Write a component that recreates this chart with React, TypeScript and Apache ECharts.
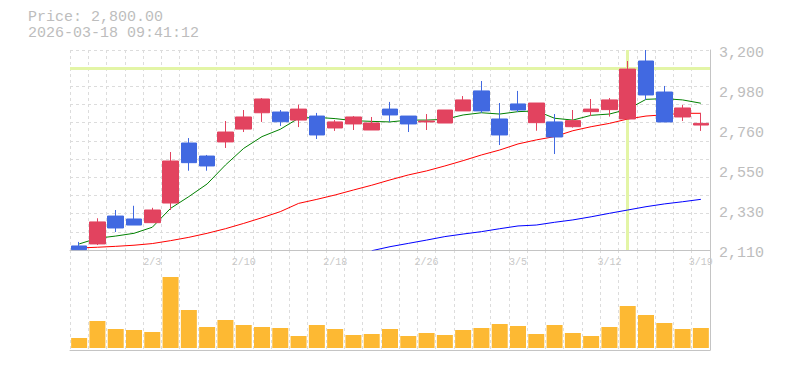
import React, { useEffect, useRef } from "react";
import * as echarts from "echarts";

const dates = [
  "1/28", "1/29", "1/30", "2/2", "2/3", "2/4", "2/5", "2/6", "2/9", "2/10",
  "2/12", "2/13", "2/16", "2/17", "2/18", "2/19", "2/20", "2/24", "2/25", "2/26",
  "2/27", "3/2", "3/3", "3/4", "3/5", "3/6", "3/9", "3/10", "3/11", "3/12",
  "3/13", "3/16", "3/17", "3/18", "3/19",
];

const opens = [2132, 2143, 2295, 2279, 2259, 2366, 2693, 2622, 2699, 2769, 2858, 2862, 2818, 2840, 2775, 2797, 2764, 2878, 2840, 2808, 2802, 2868, 2977, 2824, 2906, 2804, 2808, 2782, 2864, 2875, 2824, 3140, 2971, 2835, 2791];
const closes = [2112, 2263, 2230, 2246, 2328, 2595, 2586, 2568, 2753, 2835, 2933, 2809, 2878, 2737, 2808, 2835, 2802, 2846, 2797, 2813, 2873, 2928, 2868, 2737, 2873, 2911, 2726, 2815, 2878, 2928, 3096, 2955, 2808, 2884, 2800];
const lows = [2110, 2137, 2208, 2246, 2259, 2328, 2542, 2542, 2666, 2753, 2808, 2786, 2780, 2715, 2759, 2764, 2764, 2808, 2753, 2764, 2802, 2868, 2857, 2682, 2862, 2760, 2633, 2777, 2840, 2837, 2824, 2928, 2808, 2813, 2759];
const highs = [2154, 2283, 2328, 2351, 2340, 2644, 2720, 2628, 2813, 2873, 2938, 2873, 2902, 2857, 2818, 2840, 2835, 2917, 2840, 2851, 2873, 2949, 3031, 2911, 2977, 2911, 2851, 2873, 2933, 2938, 3140, 3200, 3004, 2900, 2857];

const volumes = [50000, 135000, 95000, 90000, 80000, 355000, 190000, 105000, 140000, 115000, 105000, 100000, 60000, 115000, 95000, 65000, 70000, 95000, 60000, 75000, 65000, 90000, 100000, 120000, 110000, 70000, 115000, 75000, 60000, 105000, 210000, 165000, 125000, 95000, 100000];

const ma5 = [2143, 2174, 2186, 2201, 2234, 2337, 2401, 2470, 2573, 2664, 2728, 2768, 2828, 2833, 2826, 2815, 2811, 2808, 2818, 2818, 2822, 2846, 2858, 2851, 2864, 2868, 2828, 2818, 2844, 2851, 2877, 2931, 2935, 2928, 2910];
const ma25 = [2121, 2125, 2130, 2136, 2145, 2161, 2179, 2201, 2226, 2255, 2286, 2319, 2364, 2386, 2410, 2437, 2463, 2492, 2519, 2541, 2568, 2597, 2628, 2655, 2688, 2710, 2728, 2760, 2782, 2800, 2824, 2840, 2847, 2855, 2855];
const ma75 = [null, null, null, null, null, null, null, null, null, null, null, null, null, null, null, null, 2106, 2128, 2146, 2164, 2183, 2197, 2210, 2226, 2241, 2246, 2261, 2274, 2291, 2310, 2328, 2346, 2361, 2373, 2386];

const priceMin = 2110;
const priceMax = 3200;
const priceStep = 218;

const headerPrice = "Price: 2,800.00";
const headerTime = "2026-03-18 09:41:12";
const crossDate = "3/13";
const crossPrice = 3100;

const mono = "'Liberation Mono', 'Courier New', monospace";
const gridColor = "#dcdcdc";
const axisColor = "#c4c4c4";
const textColor = "#bdbdbd";
const upColor = "#e2435f";
const downColor = "#4169e1";
const crossColor = "#e3f5a6";
const volColor = "#fdb933";

export default function App() {
  const ref = useRef<HTMLDivElement>(null);

  useEffect(() => {
    document.body.style.margin = "0";
    if (!ref.current) return;
    const chart = echarts.init(ref.current, null, { renderer: "svg" });
    const candleData = dates.map((_, i) => [opens[i], closes[i], lows[i], highs[i]]);
    const splitStyle = { color: gridColor, type: [3, 3] as number[], width: 1 };

    chart.setOption({
      animation: false,
      textStyle: { fontFamily: mono },
      graphic: [
        {
          type: "text",
          x: 28,
          y: 17.5,
          style: {
            text: headerPrice,
            fill: textColor,
            font: `15px ${mono}`,
            verticalAlign: "middle",
          },
        },
        {
          type: "text",
          x: 28,
          y: 33.5,
          style: {
            text: headerTime,
            fill: textColor,
            font: `15px ${mono}`,
            verticalAlign: "middle",
          },
        },
      ],
      grid: [
        { left: 70, right: 75, top: 50, height: 200 },
        { left: 70, right: 75, top: 250, height: 100 },
      ],
      xAxis: [
        {
          type: "category",
          gridIndex: 0,
          data: dates,
          boundaryGap: true,
          axisLine: { show: true, onZero: false, lineStyle: { color: axisColor } },
          axisTick: { show: false },
          axisLabel: {
            interval: (index: number) => index >= 4 && (index - 4) % 5 === 0,
            color: "#c8c8c8",
            fontSize: 10,
            fontFamily: mono,
            margin: 7,
          },
          splitLine: { show: true, interval: 0, lineStyle: splitStyle },
        },
        {
          type: "category",
          gridIndex: 1,
          data: dates,
          boundaryGap: true,
          axisLine: { show: true, onZero: false, lineStyle: { color: axisColor } },
          axisTick: { show: false },
          axisLabel: { show: false },
          splitLine: { show: true, interval: 0, lineStyle: splitStyle },
        },
      ],
      yAxis: [
        {
          type: "value",
          gridIndex: 0,
          position: "right",
          min: priceMin,
          max: priceMax,
          interval: priceStep,
          axisLine: { show: true, lineStyle: { color: axisColor } },
          axisTick: { show: false },
          splitLine: { show: false },
          axisLabel: {
            color: textColor,
            fontSize: 15,
            fontFamily: mono,
            margin: 9,
            verticalAlign: "top",
            lineHeight: 7,
            formatter: (v: number) => (Math.round(v / 10) * 10).toLocaleString("en-US"),
          },
        },
        {
          type: "value",
          gridIndex: 0,
          position: "left",
          min: 0,
          max: 11,
          interval: 1,
          axisLine: { show: false },
          axisTick: { show: false },
          axisLabel: { show: false },
          splitLine: { show: true, lineStyle: splitStyle },
        },
        {
          type: "value",
          gridIndex: 1,
          position: "right",
          min: -10000,
          max: 490000,
          axisLine: { show: true, lineStyle: { color: axisColor } },
          axisTick: { show: false },
          axisLabel: { show: false },
          splitLine: { show: false },
        },
      ],
      series: [
        {
          type: "line",
          xAxisIndex: 0,
          yAxisIndex: 0,
          data: dates.map(() => null),
          silent: true,
          z: 1,
          markLine: {
            silent: true,
            z: 1,
            symbol: ["none", "none"],
            label: { show: false },
            lineStyle: { color: crossColor, width: 3, type: "solid" },
            emphasis: { disabled: true },
            data: [{ yAxis: crossPrice }, { xAxis: crossDate }],
          },
        },
        {
          name: "MA75",
          type: "line",
          xAxisIndex: 0,
          yAxisIndex: 0,
          data: ma75,
          showSymbol: false,
          z: 2,
          lineStyle: { color: "#0000ff", width: 1 },
        },
        {
          name: "MA25",
          type: "line",
          xAxisIndex: 0,
          yAxisIndex: 0,
          data: ma25,
          showSymbol: false,
          z: 2,
          lineStyle: { color: "#ff0000", width: 1 },
        },
        {
          name: "MA5",
          type: "line",
          xAxisIndex: 0,
          yAxisIndex: 0,
          data: ma5,
          showSymbol: false,
          z: 2,
          lineStyle: { color: "#008000", width: 1 },
        },
        {
          type: "candlestick",
          xAxisIndex: 0,
          yAxisIndex: 0,
          data: candleData,
          barWidth: 16,
          z: 3,
          itemStyle: {
            color: upColor,
            color0: downColor,
            borderColor: upColor,
            borderColor0: downColor,
            borderWidth: 1,
          },
        },
        {
          type: "bar",
          xAxisIndex: 1,
          yAxisIndex: 2,
          data: volumes,
          barWidth: 16,
          itemStyle: { color: volColor },
        },
      ],
    });
    return () => chart.dispose();
  }, []);

  return <div ref={ref} style={{ width: 785, height: 370 }} />;
}
